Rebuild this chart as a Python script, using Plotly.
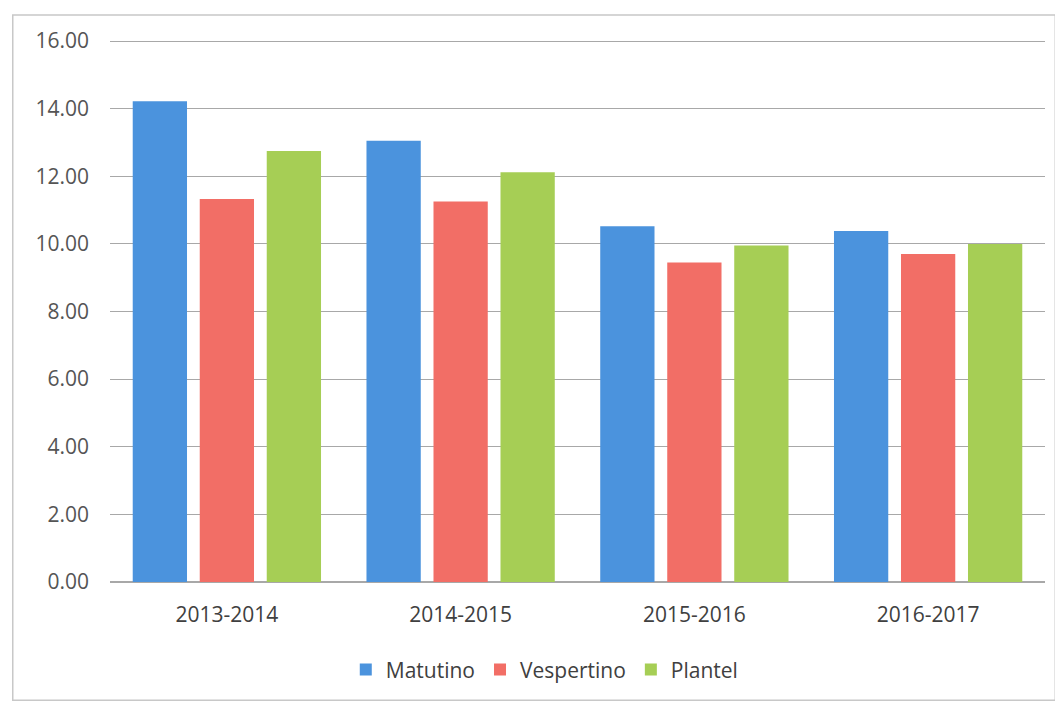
import plotly.graph_objects as go

categories = ["2013-2014", "2014-2015", "2015-2016", "2016-2017"]
matutino = [14.22, 13.05, 10.52, 10.38]
vespertino = [11.33, 11.25, 9.45, 9.7]
plantel = [12.75, 12.12, 9.95, 10.0]
series_names = ["Matutino", "Vespertino", "Plantel"]
tick_vals = [0, 2, 4, 6, 8, 10, 12, 14, 16]
tick_text = ["0.00", "2.00", "4.00", "6.00", "8.00", "10.00", "12.00", "14.00", "16.00"]

colors = ["#4B93DD", "#F26E66", "#A6CE55"]

fig = go.Figure()
for name, vals, col in zip(series_names, [matutino, vespertino, plantel], colors):
    fig.add_trace(go.Bar(x=categories, y=vals, name=name, marker=dict(color=col, line=dict(width=0))))

fig.update_layout(
    width=1055, height=698,
    margin=dict(l=102, r=18, t=32, b=124),
    paper_bgcolor="white", plot_bgcolor="white",
    barmode="group", bargap=0.14, bargroupgap=0.19,
    font=dict(family="Open Sans, Liberation Sans, sans-serif", color="#404040"),
    legend=dict(orientation="h", x=0.465, xanchor="center", y=-0.162, yanchor="middle",
                font=dict(size=21, color="#404040"), itemwidth=30),
    showlegend=True,
    shapes=[dict(type="rect", xref="paper", yref="paper", x0=-0.104, x1=1.011, y0=-0.218, y1=1.046,
                 line=dict(color="#C8C8C8", width=1.5))],
)
fig.update_yaxes(range=[0, 16.03], tickvals=tick_vals, ticktext=tick_text, showgrid=True,
                 gridcolor="#A8A8A8", gridwidth=1, zeroline=True, zerolinecolor="#A8A8A8",
                 tickfont=dict(size=21, color="#555555"), ticks="", showline=False,
                 ticklabelstandoff=20)
fig.update_xaxes(showline=True, linecolor="#A8A8A8", tickfont=dict(size=21, color="#404040"), ticks="",
                 ticklabelstandoff=14)

fig.write_html("out.html")
